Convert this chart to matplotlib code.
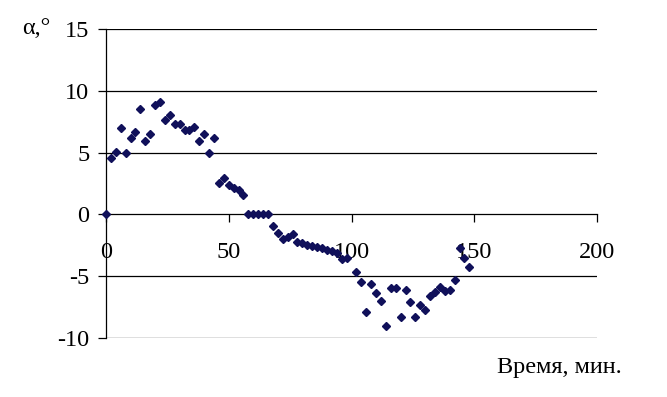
import matplotlib
matplotlib.use("Agg")
import matplotlib.pyplot as plt

time_min = [0, 2, 4, 6, 8, 10, 12, 14, 16, 18, 20, 22, 24, 26, 28, 30, 32, 34, 36, 38,
            40, 42, 44, 46, 48, 50, 52, 54, 56, 58, 60, 62, 64, 66, 68, 70, 72, 74, 76, 78,
            80, 82, 84, 86, 88, 90, 92, 94, 96, 98, 102, 104, 106, 108, 110, 112, 114, 116, 118, 120,
            122, 124, 126, 128, 130, 132, 134, 136, 138, 140, 142, 144, 146, 148]
alpha_deg = [0.0, 4.55, 5.03, 6.97, 4.95, 6.16, 6.67, 8.56, 5.95, 6.49, 8.86, 9.13, 7.65, 8.05, 7.3, 7.3, 6.84, 6.81, 7.08, 5.95,
             6.54, 4.95, 6.16, 2.57, 2.98, 2.39, 2.12, 1.96, 1.55, 0.0, 0.0, 0.0, 0.0, 0.0, -0.95, -1.5, -2.0, -1.85, -1.6, -2.25,
             -2.35, -2.45, -2.55, -2.65, -2.75, -2.85, -2.95, -3.1, -3.6, -3.5, -4.7, -5.46, -7.86, -5.65, -6.38, -7.0, -9.0, -5.97, -5.92, -8.3,
             -6.1, -7.1, -8.3, -7.3, -7.7, -6.6, -6.3, -5.9, -6.2, -6.1, -5.3, -2.7, -3.5, -4.25]

x_ticks = [0, 50, 100, 150, 200]
y_ticks = [-10, -5, 0, 5, 10, 15]
x_label = "Время, мин."
y_label = "α,°"

plt.rcParams['font.family'] = ['Liberation Serif', 'DejaVu Serif']
plt.rcParams['font.size'] = 17.5

fig = plt.figure(figsize=(6.67, 3.97), dpi=100)
ax = fig.add_axes([106/667, 1-338/397, (597-106)/667, (338-29)/397])

ax.set_xlim(0, 200)
ax.set_ylim(-10, 15)
ax.set_xticks(x_ticks)
ax.set_yticks(y_ticks)
ax.set_yticklabels([str(v) for v in y_ticks])

for v in [-10, -5, 5, 10, 15]:
    ax.axhline(v, color='black', lw=0.9, zorder=1)

ax.spines['top'].set_visible(False)
ax.spines['right'].set_visible(False)
ax.spines['bottom'].set_position(('data', 0))
ax.spines['left'].set_linewidth(0.9)
ax.spines['bottom'].set_linewidth(0.9)

ax.tick_params(axis='y', direction='out', length=6, width=0.9, pad=6)
ax.tick_params(axis='x', direction='out', length=6, width=0.9, pad=14)

ax.plot(time_min, alpha_deg, linestyle='none', marker='D', markersize=3.9,
        color='#10105a', zorder=3, clip_on=False)

fig.text(22/667, 1-28/397, y_label, ha='left', va='center')
fig.text(622/667, 1-367/397, x_label, ha='right', va='center')

fig.savefig('out.png', dpi=100)
